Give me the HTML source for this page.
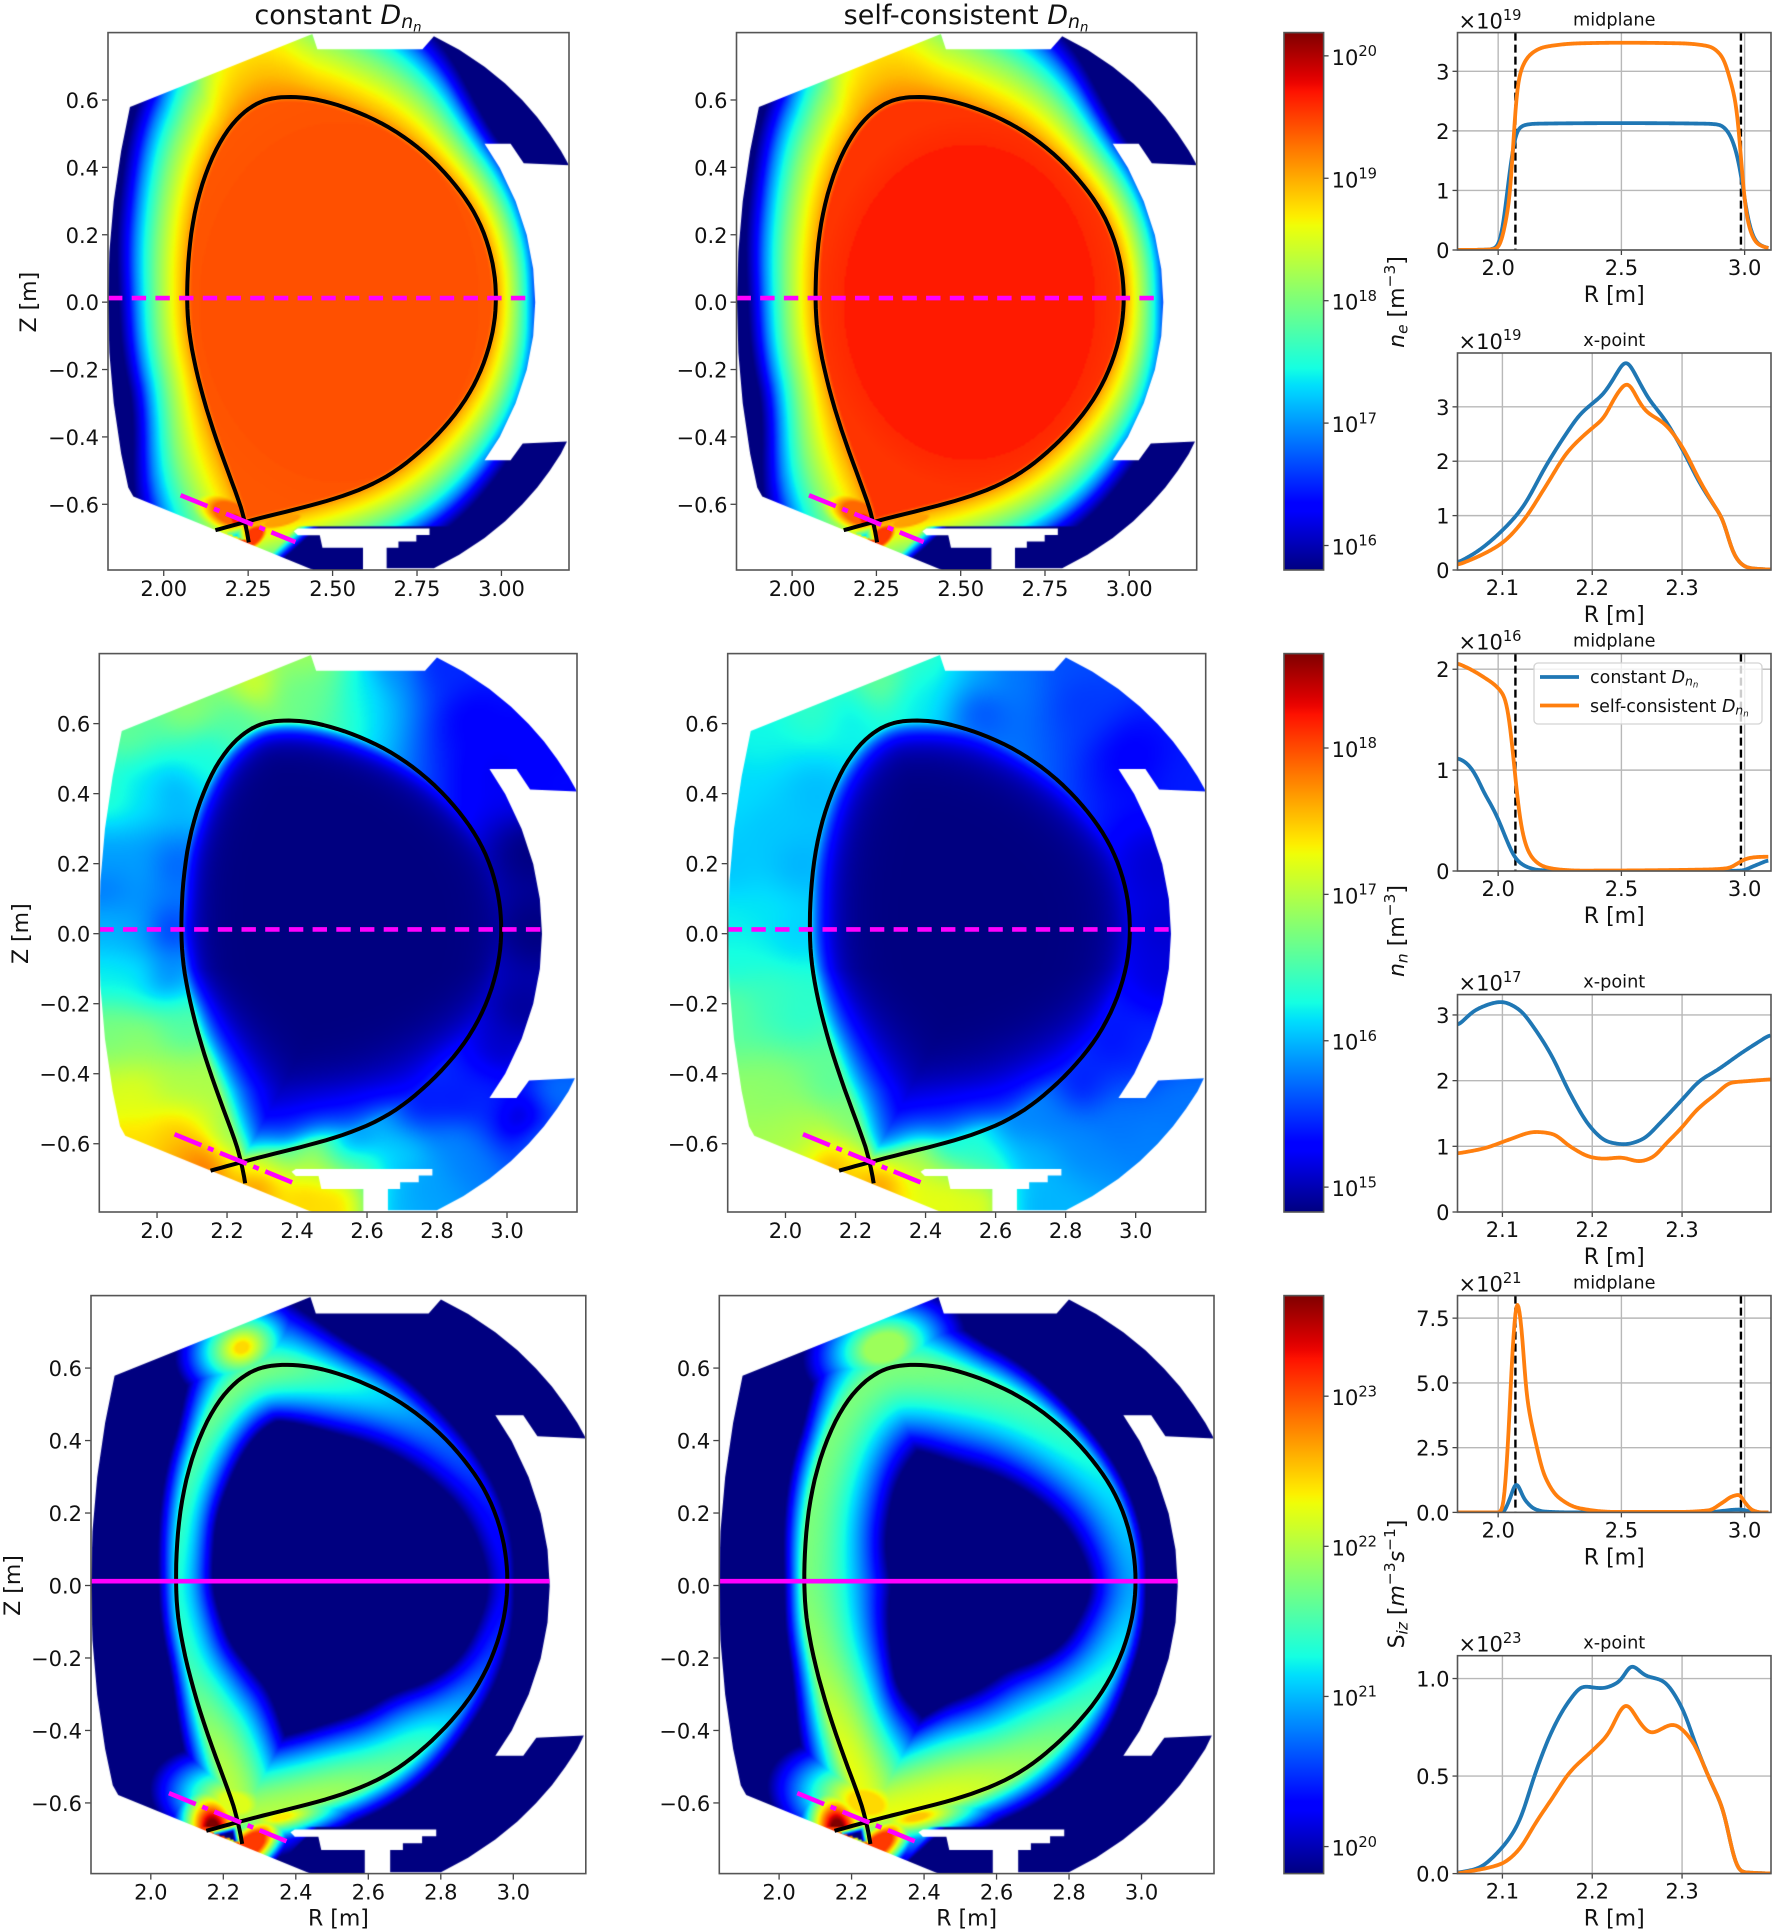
<!DOCTYPE html>
<html lang="en"><head><meta charset="utf-8"><title>Tokamak density and ionization comparison</title>
<style>
html,body{margin:0;padding:0;background:#fff}
#figure{position:relative;width:1772px;height:1931px;overflow:hidden;background:#fff}
canvas{position:absolute;display:block}
svg{position:absolute;left:0;top:0}
text{font-family:"DejaVu Sans","Liberation Sans",sans-serif;fill:#111;white-space:pre}
</style></head>
<body>
<div id="figure"></div>
<script>
/* ---------- geometry data (R, Z in metres) ---------- */
const wallR=[1.9,2.44,2.455,2.766,2.80,2.875,2.95,3.011,3.062,3.106,3.143,3.176,3.2,3.066,3.027,2.95,2.995,3.042,3.075,3.094,3.10,3.094,3.075,3.042,2.995,2.95,3.027,3.063,3.194,3.176,3.143,3.106,3.062,3.011,2.95,2.875,2.80,2.66,2.66,2.695,2.695,2.748,2.748,2.787,2.787,2.397,2.385,2.397,2.462,2.47,2.59,2.59,2.443,1.91,1.895,1.874,1.852,1.839,1.835,1.839,1.852,1.874];
const wallZ=[.58,.797,.752,.752,.79,.75,.7,.65,.6,.55,.5,.45,.407,.413,.471,.471,.4,.3,.2,.1,0,-.1,-.2,-.3,-.4,-.469,-.469,-.419,-.413,-.45,-.5,-.55,-.6,-.65,-.7,-.75,-.79,-.79,-.729,-.729,-.71,-.71,-.691,-.691,-.672,-.672,-.68,-.692,-.692,-.729,-.729,-.795,-.795,-.577,-.55,-.45,-.3,-.15,0,.15,.3,.45];
const sepR=[2.153,2.24,2.36,2.482,2.603,2.70,2.797,2.881,2.942,2.978,2.985,2.978,2.942,2.881,2.797,2.688,2.579,2.47,2.391,2.318,2.264,2.203,2.143,2.094,2.073,2.068,2.076,2.107,2.155,2.215,2.24,2.252];
const sepZ=[-.677,-.653,-.622,-.592,-.55,-.495,-.41,-.314,-.205,-.084,.013,.11,.231,.328,.425,.51,.564,.6,.61,.607,.585,.534,.437,.292,.146,0,-.108,-.253,-.41,-.568,-.653,-.713];
const midplaneZ=0.012;
const xpointLineR=[2.05,2.39];
const xpointLineZ=[-.573,-.712];

/* ---------- colour field read-offs: fraction of the jet scale ---------- */
const neProfileD=[0,.012,.035,.065,.09,.108,.125,.145];
const neProfileT=[.77,.71,.63,.5,.37,.25,.11,0];
const neAngle=[-180,-150,-130,-115,-100,-80,-60,-30,0,30,52,71,90,100,104,107,112,116,125,150,180];
const neScale=[1.4,1.45,2.2,1.9,1.6,1.6,1.6,1.35,1,1.17,1.35,2.2,2.8,3.6,6,8,7,3,2.05,1.6,1.4];

const nnConstR=[2.283,2.44,2.09,1.91,1.864,1.845,1.85,1.845,1.854,1.873,1.892,1.91,2.045,2.14,2.09,2.283,2.426,2.52,2.71,2.78,2.283,2.426,2.569,2.711,2.854,3.045,3.14,2.95,2.854,3.045,3.083,3.07,2.99,3.09,3.14,2.9,2.807,2.664,2.588,2.473,2.378,2.235,2.14,2.045,2.045,2.026,2.016,2.073,2.14,2.045,2.207,2.378,2.569,2.76,2.99,1.95,1.95,1.95,1.95,1.95,1.95,2.75,2.9,3.08];
const nnConstZ=[.71,.79,.645,.578,.405,.196,.133,.007,-.118,-.275,-.485,-.58,-.569,-.663,-.64,-.715,-.747,-.757,-.767,-.745,-.642,-.642,-.663,-.642,-.59,-.537,-.453,-.485,-.495,-.223,.007,.238,.468,.51,.426,.615,.77,.76,.72,.73,.688,.615,.51,.405,.196,.007,-.118,-.275,-.432,-.432,-.579,-.59,-.59,-.485,-.328,.196,.405,.007,-.118,-.3,-.45,-.72,-.66,-.58];
const nnConstT=[.62,.55,.52,.47,.4,.28,.24,.3,.36,.5,.62,.68,.7,.82,.75,.78,.7,.7,.3,.28,.55,.56,.45,.33,.26,.02,.24,.16,.14,.02,0,0,.1,.12,.13,.12,.16,.26,.36,.47,.48,.45,.38,.3,.22,.17,.25,.45,.56,.56,.52,.35,.25,.14,.06,.28,.35,.29,.36,.52,.62,.28,.25,.24];
const nnSelfR=[2.274,2.43,2.084,1.912,1.865,1.841,1.841,1.85,1.855,1.884,1.912,2.036,2.122,2.084,2.18,2.274,2.37,2.465,2.56,2.703,2.75,2.37,2.56,2.7,2.75,2.94,3.13,3.017,2.94,3.074,3.093,3.074,2.99,3.15,2.846,2.798,2.655,2.56,2.465,2.56,2.37,2.18,2.084,2.036,2.027,2.036,2.131,2.18,2.274,2.465,2.655,2.846,1.95,1.95,1.95,1.95,2.85,3.05];
const nnSelfZ=[.72,.78,.646,.578,.405,.196,.007,-.066,-.223,-.485,-.58,-.59,-.663,-.63,-.663,-.715,-.726,-.757,-.762,-.767,-.767,-.642,-.642,-.642,-.537,-.537,-.492,-.328,-.307,-.118,.007,.196,.51,.426,.667,.77,.75,.73,.76,.645,.667,.615,.405,.196,.007,-.223,-.432,-.55,-.59,-.59,-.537,-.432,.3,.05,-.2,-.45,-.62,-.6];
const nnSelfT=[.48,.42,.41,.37,.34,.32,.36,.38,.46,.53,.55,.55,.78,.62,.68,.78,.64,.64,.64,.3,.3,.55,.4,.3,.25,.24,.24,.16,.14,.08,.07,.07,.12,.15,.18,.2,.24,.28,.33,.2,.36,.36,.31,.3,.33,.4,.46,.5,.42,.35,.25,.15,.32,.35,.42,.52,.26,.25];

const sizAngle=[-180,-150,-120,-100,-90,-60,-45,-30,0,30,60,90,97,105,120,130,150,180];
const sizConstSep=[.38,.42,.58,.56,.55,.42,.3,.2,.1,.15,.25,.42,.46,.5,.5,.46,.42,.38];
const sizConstIn=[.1,.13,.2,.2,.2,.17,.12,.08,.05,.08,.12,.16,.16,.16,.13,.12,.1,.1];
const sizConstOut=[.05,.05,.1,.09,.09,.07,.05,.04,.02,.03,.05,.1,.16,.24,.14,.07,.06,.05];
const sizSelfSep=[.5,.54,.64,.63,.62,.5,.44,.38,.28,.34,.42,.48,.5,.5,.5,.5,.5,.5];
const sizSelfIn=[.24,.22,.2,.26,.26,.24,.2,.16,.12,.16,.2,.24,.24,.24,.22,.22,.22,.24];
const sizSelfOut=[.055,.07,.14,.11,.1,.1,.08,.05,.03,.04,.06,.11,.18,.3,.15,.08,.07,.055];

/* ---------- line chart data ---------- */
const neMidConstR=[1.835,1.95,1.98,2.0,2.02,2.04,2.06,2.07,2.08,2.1,2.15,2.5,2.85,2.9,2.93,2.95,2.98,3.0,3.02,3.05,3.1];
const neMidConst=[0,.005,.02,.07,.4,1.1,1.7,1.95,2.02,2.09,2.12,2.13,2.12,2.1,2,1.85,1.4,.85,.4,.12,.02];
const neMidSelfR=[1.835,1.95,1.98,2.0,2.02,2.04,2.052,2.069,2.09,2.135,2.19,2.33,2.5,2.74,2.855,2.91,2.945,2.97,2.98,3.0,3.02,3.047,3.1];
const neMidSelf=[0,.005,.015,.03,.25,.7,.97,2.48,3,3.3,3.41,3.47,3.48,3.47,3.42,3.24,2.8,2.35,1.85,.77,.35,.12,.02];
const neXpConstR=[2.05,2.072,2.1,2.122,2.149,2.172,2.187,2.2,2.213,2.225,2.238,2.247,2.262,2.281,2.3,2.32,2.339,2.346,2.354,2.362,2.373,2.399];
const neXpConst=[.13,.34,.73,1.14,1.93,2.53,2.87,3.06,3.25,3.55,3.85,3.62,3.17,2.76,2.23,1.59,1.1,.92,.43,.17,.04,.005];
const neXpSelfR=[2.05,2.072,2.1,2.122,2.149,2.172,2.187,2.2,2.213,2.225,2.24,2.247,2.258,2.281,2.3,2.32,2.339,2.346,2.354,2.362,2.373,2.399];
const neXpSelf=[.09,.24,.5,.88,1.56,2.16,2.42,2.61,2.8,3.17,3.45,3.25,2.95,2.68,2.27,1.63,1.1,.92,.43,.17,.04,.005];
const nnMidConstR=[1.834,1.86,1.887,1.915,1.942,1.97,1.997,2.039,2.069,2.108,2.163,2.27,2.9,2.99,3.033,3.098];
const nnMidConst=[1.12,1.09,1.03,.92,.78,.66,.53,.28,.13,.05,.01,0,0,.005,.045,.11];
const nnMidSelfR=[1.834,1.887,1.942,1.997,2.032,2.052,2.069,2.087,2.115,2.149,2.19,2.26,2.33,2.85,2.936,2.971,3.005,3.047,3.098];
const nnMidSelf=[2.06,2,1.92,1.82,1.69,1.36,.94,.53,.23,.1,.04,.012,.004,.015,.03,.075,.12,.138,.142];
const nnXpConstR=[2.05,2.072,2.099,2.118,2.137,2.156,2.175,2.2,2.217,2.236,2.255,2.278,2.3,2.32,2.339,2.366,2.399];
const nnXpConst=[2.83,3.09,3.2,3.09,2.77,2.35,1.81,1.26,1.07,1.03,1.1,1.39,1.71,2,2.16,2.42,2.71];
const nnXpSelfR=[2.05,2.08,2.107,2.137,2.156,2.175,2.2,2.213,2.232,2.252,2.267,2.282,2.3,2.316,2.339,2.354,2.37,2.399];
const nnXpSelf=[.89,.97,1.1,1.22,1.19,1,.83,.81,.83,.77,.83,1.04,1.29,1.55,1.81,1.97,1.99,2.02];
const sizMidConstR=[1.835,2.018,2.046,2.073,2.108,2.149,2.19,2.3,2.85,2.978,3.005,3.033,3.1];
const sizMidConst=[0,0,.49,1.1,.49,.13,.03,0,.01,.11,.08,0,0];
const sizMidSelfR=[1.835,2.004,2.018,2.039,2.059,2.077,2.094,2.115,2.149,2.19,2.246,2.33,2.467,2.743,2.854,2.909,2.95,2.978,2.999,3.033,3.07,3.1];
const sizMidSelf=[0,0,.16,2.5,6.4,8.2,7.2,4.6,2.85,1.38,.57,.16,.02,.02,.08,.37,.62,.68,.41,.08,0,0];
const sizXpConstR=[2.05,2.072,2.099,2.118,2.137,2.156,2.175,2.19,2.21,2.232,2.243,2.259,2.278,2.3,2.316,2.331,2.347,2.356,2.364,2.399];
const sizXpConst=[.004,.026,.13,.26,.52,.74,.89,.96,.95,.99,1.07,1.015,.99,.85,.65,.48,.31,.11,.01,0];
const sizXpSelfR=[2.05,2.099,2.118,2.137,2.156,2.175,2.2,2.217,2.238,2.252,2.265,2.29,2.309,2.331,2.347,2.356,2.364,2.399];
const sizXpSelf=[0,.05,.12,.26,.39,.52,.63,.71,.87,.78,.72,.765,.695,.48,.31,.11,.01,0];

const RMIN=1.835,RMAX=3.2,ZMIN=-.795,ZMAX=.8,STEP=.005;
const NX=Math.round((RMAX-RMIN)/STEP)+1,NZ=Math.round((ZMAX-ZMIN)/STEP)+1;
const figure=document.getElementById('figure');
const NS='http://www.w3.org/2000/svg';
const svg=document.createElementNS(NS,'svg');
svg.setAttribute('width',1772);svg.setAttribute('height',1931);svg.setAttribute('viewBox','0 0 1772 1931');


const defs=document.createElementNS(NS,'defs');svg.appendChild(defs);

function mk(tag,attrs,parent,name){
  const el=document.createElementNS(NS,tag);
  for(const k in attrs)el.setAttribute(k,attrs[k]);
  
  
  (parent||svg).appendChild(el);
  return el;
}
function txt(x,y,s,size,anchor,name,parent){
  const el=mk('text',{x:x,y:y,'font-size':size,'text-anchor':anchor||'middle'},parent,name);
  el.textContent=s;
  return el;
}
function rich(x,y,parts,size,anchor,rot,name,parent){
  const el=mk('text',{x:x,y:y,'font-size':size,'text-anchor':anchor||'middle'},parent,name);
  if(rot)el.setAttribute('transform','rotate(-90 '+x+' '+y+')');
  let shift=0;
  parts.forEach(function(p){
    const s=document.createElementNS(NS,'tspan');
    const target=(p.o||0)*size;
    s.setAttribute('font-size',size*(p.f||1));
    s.setAttribute('dy',target-shift);shift=target;
    if(p.i)s.setAttribute('font-style','italic');
    s.textContent=p.t;
    el.appendChild(s);
  });
  return el;
}
function interp(xs,ys,x){
  if(x<=xs[0])return ys[0];
  const n=xs.length-1;
  if(x>=xs[n])return ys[n];
  for(let i=1;i<=n;i++)if(x<=xs[i]){return ys[i-1]+(ys[i]-ys[i-1])*(x-xs[i-1])/(xs[i]-xs[i-1]);}
  return ys[n];
}
function angInterp(xs,ys,a){
  let s=0;
  for(let k=-2;k<=2;k++){
    let b=a+k*3;
    if(b>180)b-=360;
    if(b<-180)b+=360;
    s+=interp(xs,ys,b);
  }
  return s/5;
}
function clamp(v,a,b){return v<a?a:v>b?b:v;}
function jet(t){
  t=clamp(t,0,1);
  return [interp([0,.35,.66,.89,1],[0,0,1,1,.5],t),interp([0,.125,.375,.64,.91,1],[0,0,1,1,0,0],t),interp([0,.11,.34,.65,1],[.5,1,1,0,0],t)];
}
function spline(rs,zs,sub){
  const out=[];const n=rs.length;
  for(let i=0;i<n-1;i++){
    const a=Math.max(0,i-1),b=i,c=i+1,d=Math.min(n-1,i+2);
    for(let k=0;k<sub;k++){
      const u=k/sub,u2=u*u,u3=u2*u;
      const f=function(p){return .5*(2*p[b]+(p[c]-p[a])*u+(2*p[a]-5*p[b]+4*p[c]-p[d])*u2+(3*p[b]-p[a]-3*p[c]+p[d])*u3);};
      out.push([f(rs),f(zs)]);
    }
  }
  out.push([rs[n-1],zs[n-1]]);
  return out;
}
const SUB=5;
const sepDense=(function(){
  let p=spline(sepR,sepZ,SUB);
  for(let pass=0;pass<14;pass++){
    const q=p.map(function(c){return c.slice();});
    for(let i=1;i<p.length-1;i++){
      const w=clamp((Math.hypot(p[i][0]-sepR[1],p[i][1]-sepZ[1])-.05)/.08,0,1);
      q[i][0]=p[i][0]+w*((p[i-1][0]+2*p[i][0]+p[i+1][0])/4-p[i][0]);
      q[i][1]=p[i][1]+w*((p[i-1][1]+2*p[i][1]+p[i+1][1])/4-p[i][1]);
    }
    p=q;
  }
  return p;
})();
const coreDense=sepDense.slice(SUB,SUB*(sepR.length-2)+1);

/* signed distance grid shared by every panel */
const sd=new Float32Array(NX*NZ),th=new Float32Array(NX*NZ);
(function(){
  const m=coreDense.length;
  for(let j=0;j<NZ;j++){
    const Z=ZMAX-j*STEP;
    for(let i=0;i<NX;i++){
      const R=RMIN+i*STEP;
      let best=1e9,inside=false;
      for(let s=0,q=m-1;s<m;q=s++){
        const ax=coreDense[q][0],az=coreDense[q][1],bx=coreDense[s][0],bz=coreDense[s][1];
        const dx=bx-ax,dz=bz-az;
        const l=dx*dx+dz*dz;
        const u=l>0?clamp(((R-ax)*dx+(Z-az)*dz)/l,0,1):0;
        const ex=R-ax-u*dx,ez=Z-az-u*dz,dd=ex*ex+ez*ez;
        if(dd<best)best=dd;
        if((az>Z)!==(bz>Z)&&R<ax+(Z-az)/dz*dx)inside=!inside;
      }
      sd[j*NX+i]=(inside?-1:1)*Math.sqrt(best);
      th[j*NX+i]=Math.atan2(Z,R-2.5)*180/Math.PI;
    }
  }
})();

function ellipse(R,Z,b){
  const c=Math.cos(b[5]*Math.PI/180),s=Math.sin(b[5]*Math.PI/180);
  const u=(R-b[0])*c+(Z-b[1])*s,v=-(R-b[0])*s+(Z-b[1])*c;
  const e=Math.sqrt(u*u/(b[2]*b[2])+v*v/(b[3]*b[3]));
  return b[4]*clamp((1-e)*b[6],0,1);
}
function segDist(R,Z,a,b,c,d){
  const dx=c-a,dz=d-b,u=clamp(((R-a)*dx+(Z-b)*dz)/(dx*dx+dz*dz),0,1);
  return Math.hypot(R-a-u*dx,Z-b-u*dz);
}
function inPrivate(R,Z){
  const p=[[2.24,-.655],[2.153,-.677],[2.252,-.713]];let inside=false;
  for(let i=0,j=2;i<3;j=i++){
    if((p[i][1]>Z)!==(p[j][1]>Z)&&R<p[i][0]+(Z-p[i][1])/(p[j][1]-p[i][1])*(p[j][0]-p[i][0]))inside=!inside;
  }
  return inside;
}
function lowerDetail(t,R,Z,legT,slope){
  if(inPrivate(R,Z)){
    const q=Math.min(segDist(R,Z,2.24,-.655,2.153,-.677),segDist(R,Z,2.24,-.655,2.252,-.713));
    t=Math.min(t,legT-q*slope);
  }
  if(Z<-.668){
    const c=(R-2.37)*.67-(Z+.71)*.74;
    t=Math.min(t,interp([-.03,0,.03],[.85,.4,0],c));
  }
  return t;
}
function neField(cfg){
  return function(R,Z,d,a){
    let t;
    if(d<0){
      const depth=-d;
      const ex=(R-cfg.c)/cfg.a,ez=Z/cfg.b,e=ex*ex+ez*ez;
      const inner=e<1?cfg.core:cfg.ring+(cfg.core-cfg.ring)*.45*clamp((1.4-e)/.4,0,1);
      t=depth<.012?.77+(inner-.77)*depth/.012:inner;
    }else{
      t=interp(neProfileD,neProfileT,d/angInterp(neAngle,neScale,a));
    }
    if(d>=0)cfg.blobs.forEach(function(b){t=Math.max(t,ellipse(R,Z,b));});
    return lowerDetail(t,R,Z,.8,14);
  };
}
function blurGrid(g,r,passes){
  const tmp=new Float32Array(g.length),w=2*r+1;
  for(let p=0;p<passes;p++){
    for(let j=0;j<NZ;j++){
      let s=0;
      for(let k=-r;k<=r;k++)s+=g[j*NX+clamp(k,0,NX-1)];
      for(let i=0;i<NX;i++){
        tmp[j*NX+i]=s/w;
        s+=g[j*NX+clamp(i+r+1,0,NX-1)]-g[j*NX+clamp(i-r,0,NX-1)];
      }
    }
    for(let i=0;i<NX;i++){
      let s=0;
      for(let k=-r;k<=r;k++)s+=tmp[clamp(k,0,NZ-1)*NX+i];
      for(let j=0;j<NZ;j++){
        g[j*NX+i]=s/w;
        s+=tmp[clamp(j+r+1,0,NZ-1)*NX+i]-tmp[clamp(j-r,0,NZ-1)*NX+i];
      }
    }
  }
}
function idwField(rs,zs,ts,extra){
  const g=new Float32Array(NX*NZ);
  for(let j=0;j<NZ;j++){
    const Z=ZMAX-j*STEP;
    for(let i=0;i<NX;i++){
      const R=RMIN+i*STEP;
      let sw=0,sv=0;
      for(let q=0;q<rs.length;q++){
        const dx=R-rs[q],dz=Z-zs[q];
        const w=1/Math.pow(dx*dx+dz*dz+.0012,1.6);
        sw+=w;sv+=w*ts[q];
      }
      g[j*NX+i]=sv/sw;
    }
  }
  blurGrid(g,5,3);
  return function(R,Z,d,a,k){
    let t=g[k];
    if(d<0){
      const lam=.03+extra+.05*clamp((-Z-.1)/.35,0,1);
      t*=Math.exp(d/lam);
    }
    return t;
  };
}
function sizField(sep,inn,out,blobs){
  return function(R,Z,d,a){
    const s=angInterp(sizAngle,sep,a);
    let t;
    if(d<0)t=s*Math.max(0,1-Math.pow(-d/angInterp(sizAngle,inn,a),1.8));
    else t=s*Math.max(0,1-d/angInterp(sizAngle,out,a));
    blobs.forEach(function(b){t=Math.max(t,ellipse(R,Z,b));});
    return lowerDetail(t,R,Z,.9,42);
  };
}
function paintPanel(box,fn,name){
  const off=document.createElement('canvas');off.width=NX;off.height=NZ;
  const oc=off.getContext('2d');const im=oc.createImageData(NX,NZ);
  for(let j=0;j<NZ;j++){
    const Z=ZMAX-j*STEP;
    for(let i=0;i<NX;i++){
      const k=j*NX+i;
      const c=jet(fn(RMIN+i*STEP,Z,sd[k],th[k],k));
      im.data[k*4]=c[0]*255;im.data[k*4+1]=c[1]*255;im.data[k*4+2]=c[2]*255;im.data[k*4+3]=255;
    }
  }
  oc.putImageData(im,0,0);
  const cv=document.createElement('canvas');
  const w=Math.round(box.x1-box.x0),h=Math.round(box.y1-box.y0);
  cv.width=w;cv.height=h;
  cv.style.left=box.x0+'px';cv.style.top=box.y0+'px';
  cv.style.width=(box.x1-box.x0)+'px';cv.style.height=(box.y1-box.y0)+'px';
  
  
  const ctx=cv.getContext('2d');
  ctx.beginPath();
  wallR.forEach(function(r,i){
    const X=(r-RMIN)/(RMAX-RMIN)*w,Y=(ZMAX-wallZ[i])/(ZMAX-ZMIN)*h;
    if(i)ctx.lineTo(X,Y);else ctx.moveTo(X,Y);
  });
  ctx.closePath();ctx.clip();
  ctx.imageSmoothingEnabled=true;ctx.imageSmoothingQuality='high';
  ctx.drawImage(off,0,0,w,h);
  figure.appendChild(cv);
}
const FRAME='#555',TICK='#444',GRID='#b8b8b8';
function sx(box,lim,v){return box.x0+(v-lim[0])/(lim[1]-lim[0])*(box.x1-box.x0);}
function sy(box,lim,v){return box.y1-(v-lim[0])/(lim[1]-lim[0])*(box.y1-box.y0);}
function frame(box,name){
  mk('rect',{x:box.x0,y:box.y0,width:box.x1-box.x0,height:box.y1-box.y0,fill:'none',stroke:FRAME,'stroke-width':1.6},null,name);
}
function polarPlot(box,spec){
  const xl=[RMIN,RMAX],yl=[ZMIN,ZMAX];
  const g=mk('g',{},null,spec.name);
  const pts=sepDense.map(function(p){return sx(box,xl,p[0]).toFixed(1)+','+sy(box,yl,p[1]).toFixed(1);}).join(' ');
  mk('polyline',{points:pts,fill:'none',stroke:'#000','stroke-width':4,'stroke-linejoin':'round'},g,'separatrix-line');
  const my=sy(box,yl,midplaneZ);
  const mid=mk('line',{x1:box.x0,y1:my,x2:sx(box,xl,spec.midEnd),y2:my,stroke:'#ff00ff','stroke-width':4.6},g,'midplane-line');
  if(spec.dashed)mid.setAttribute('stroke-dasharray','14.4 9.3');
  mk('line',{x1:sx(box,xl,xpointLineR[0]),y1:sy(box,yl,xpointLineZ[0]),x2:sx(box,xl,xpointLineR[1]),y2:sy(box,yl,xpointLineZ[1]),stroke:'#ff00ff','stroke-width':4.6,'stroke-dasharray':'29 7 6 7'},g,'x-point-line');
  frame(box,'panel-frame');
  spec.xticks.forEach(function(s){
    const X=sx(box,xl,parseFloat(s));
    mk('line',{x1:X,y1:box.y1,x2:X,y2:box.y1+6,stroke:TICK,'stroke-width':1.3},g,'x-tick');
    txt(X,box.y1+26,s,21,'middle','x-tick-label',g);
  });
  ['-0.6','-0.4','-0.2','0.0','0.2','0.4','0.6'].forEach(function(s){
    const Y=sy(box,yl,parseFloat(s));
    mk('line',{x1:box.x0-6,y1:Y,x2:box.x0,y2:Y,stroke:TICK,'stroke-width':1.3},g,'z-tick');
    txt(box.x0-9,Y+8,s.replace('-','\u2212'),21,'end','z-tick-label',g);
  });
  if(spec.zlabelX){
    const el=txt(spec.zlabelX,sy(box,yl,0),'Z [m]',22,'middle','z-axis-title',g);
    el.setAttribute('transform','rotate(-90 '+spec.zlabelX+' '+sy(box,yl,0)+')');
  }
  if(spec.rlabel)txt((box.x0+box.x1)/2,box.y1+52,'R [m]',22,'middle','r-axis-title',g);
}
const DSUB=[{t:'D',i:1},{t:'n',i:1,f:.7,o:.15},{t:'n',i:1,f:.49,o:.27}];
function colorbar(box,lo,hi,decades,parts,cy,name){
  const g=mk('g',{},null,name);
  const id='grad-'+name;
  const lg=mk('linearGradient',{id:id,x1:0,y1:1,x2:0,y2:0},defs,'colorbar-gradient');
  for(let i=0;i<=64;i++){
    const c=jet(i/64);
    mk('stop',{offset:i/64,'stop-color':'rgb('+Math.round(c[0]*255)+','+Math.round(c[1]*255)+','+Math.round(c[2]*255)+')'},lg,'gradient-stop');
  }
  mk('rect',{x:box.x0,y:box.y0,width:box.x1-box.x0,height:box.y1-box.y0,fill:'url(#'+id+')'},g,'colorbar-fill');
  mk('rect',{x:box.x0,y:box.y0,width:box.x1-box.x0,height:box.y1-box.y0,fill:'none',stroke:FRAME,'stroke-width':1.6},g,'colorbar-frame');
  decades.forEach(function(dec){
    const Y=box.y1-(dec-lo)/(hi-lo)*(box.y1-box.y0);
    mk('line',{x1:box.x1,y1:Y,x2:box.x1+5,y2:Y,stroke:TICK,'stroke-width':1.3},g,'colorbar-tick');
    rich(box.x1+8,Y+9,[{t:'10'},{t:String(dec),f:.7,o:-.42}],21,'start',false,'colorbar-tick-label',g);
  });
  rich(1404,cy,parts,22,'middle',true,'colorbar-title',g);
}
let clipCount=0;
function linePlot(box,spec){
  const g=mk('g',{},null,spec.name);
  const xl=spec.xlim,yl=spec.ylim;
  spec.xt.forEach(function(s){
    const X=sx(box,xl,parseFloat(s));
    mk('line',{x1:X,y1:box.y0,x2:X,y2:box.y1,stroke:GRID,'stroke-width':1.4},g,'x-gridline');
  });
  spec.yt.forEach(function(s){
    const Y=sy(box,yl,parseFloat(s));
    mk('line',{x1:box.x0,y1:Y,x2:box.x1,y2:Y,stroke:GRID,'stroke-width':1.4},g,'y-gridline');
  });
  clipCount++;
  const cid='clip-'+clipCount;
  const cp=mk('clipPath',{id:cid},defs,'plot-clip');
  mk('rect',{x:box.x0,y:box.y0,width:box.x1-box.x0,height:box.y1-box.y0},cp,'plot-clip-rect');
  const pg=mk('g',{'clip-path':'url(#'+cid+')'},g,'plot-area');
  if(spec.vlines)spec.vlines.forEach(function(v){
    const X=sx(box,xl,v);
    mk('line',{x1:X,y1:box.y0,x2:X,y2:box.y1,stroke:'#000','stroke-width':2.4,'stroke-dasharray':'8 4'},pg,'separatrix-marker');
  });
  spec.series.forEach(function(s){
    const xs=s.R.map(function(v){return sx(box,xl,v);}),ys=s.v.map(function(v){return sy(box,yl,v);});
    mk('path',{d:smoothPath(xs,ys,spec.blur),fill:'none',stroke:s.c,'stroke-width':3.8,'stroke-linejoin':'round'},pg,s.n);
  });
  frame(box,'plot-frame');
  spec.xt.forEach(function(s){
    const X=sx(box,xl,parseFloat(s));
    mk('line',{x1:X,y1:box.y1,x2:X,y2:box.y1+5,stroke:TICK,'stroke-width':1.3},g,'x-tick');
    txt(X,box.y1+25,s,21,'middle','x-tick-label',g);
  });
  spec.yt.forEach(function(s){
    const Y=sy(box,yl,parseFloat(s));
    mk('line',{x1:box.x0-5,y1:Y,x2:box.x0,y2:Y,stroke:TICK,'stroke-width':1.3},g,'y-tick');
    txt(box.x0-8,Y+8,s,21,'end','y-tick-label',g);
  });
  txt((box.x0+box.x1)/2,box.y1+52,'R [m]',22,'middle','r-axis-title',g);
  txt((box.x0+box.x1)/2,box.y0-7,spec.title,17.7,'middle','plot-title',g);
  rich(box.x0+1,box.y0-4,[{t:'\u00d710'},{t:spec.exp,f:.7,o:-.42}],21,'start',false,'offset-exponent',g);
}
function smoothPath(xs,ys,r){
  const n=xs.length,m=new Array(n),dl=[];
  for(let i=0;i<n-1;i++)dl.push((ys[i+1]-ys[i])/(xs[i+1]-xs[i]));
  m[0]=dl[0];m[n-1]=dl[n-2];
  for(let i=1;i<n-1;i++){
    if(dl[i-1]*dl[i]<=0){m[i]=0;}
    else{
      const h0=xs[i]-xs[i-1],h1=xs[i+1]-xs[i];
      const w1=2*h1+h0,w2=h1+2*h0;
      m[i]=(w1+w2)/(w1/dl[i-1]+w2/dl[i]);
    }
  }
  const px=[],py=[];
  let seg=0;
  for(let x=xs[0];x<=xs[n-1]+.001;x+=1){
    while(seg<n-2&&x>xs[seg+1])seg++;
    const h=xs[seg+1]-xs[seg],u=clamp((x-xs[seg])/h,0,1),u2=u*u,u3=u2*u;
    px.push(x);
    py.push((2*u3-3*u2+1)*ys[seg]+(u3-2*u2+u)*h*m[seg]+(-2*u3+3*u2)*ys[seg+1]+(u3-u2)*h*m[seg+1]);
  }
  let cur=py;
  for(let p=0;p<3;p++){
    const nx=cur.slice();
    for(let i=0;i<cur.length;i++){
      let s=0;
      for(let k=-r;k<=r;k++)s+=cur[clamp(i+k,0,cur.length-1)];
      nx[i]=s/(2*r+1);
    }
    cur=nx;
  }
  let d='';
  for(let i=0;i<px.length;i++)d+=(i?'L':'M')+px[i].toFixed(1)+' '+cur[i].toFixed(2);
  return d;
}

/* ---------- panel layout ---------- */
const rows=[{y0:32.6,y1:570},{y0:653.6,y1:1212},{y0:1295.6,y1:1873.6}];
const boxes=[
  {x0:108,x1:569},{x0:736.5,x1:1196.7},
  {x0:99.3,x1:577},{x0:727.7,x1:1205.7},
  {x0:91,x1:585.8},{x0:719.3,x1:1214}
].map(function(b,i){return {x0:b.x0,x1:b.x1,y0:rows[Math.floor(i/2)].y0,y1:rows[Math.floor(i/2)].y1};});

const neBlobs=[[2.2,-.63,.24,.13,.8,-22,1.3],[2.35,-.65,.22,.06,.74,15,1.3],[2.215,-.65,.08,.05,.87,120,1.3],[2.26,-.70,.11,.06,.85,40,1.5]];
paintPanel(boxes[0],neField({core:.825,ring:.819,c:2.52,a:.415,b:.535,blobs:neBlobs}),'ne-constant-map');
paintPanel(boxes[1],neField({core:.883,ring:.855,c:2.525,a:.375,b:.47,blobs:neBlobs}),'ne-self-consistent-map');
paintPanel(boxes[2],idwField(nnConstR,nnConstZ,nnConstT,0),'nn-constant-map');
paintPanel(boxes[3],idwField(nnSelfR,nnSelfZ,nnSelfT,.012),'nn-self-consistent-map');
paintPanel(boxes[4],sizField(sizConstSep,sizConstIn,sizConstOut,[[2.17,-.67,.17,.12,1,100,1.15],[2.27,-.72,.16,.08,1,40,1.25],[2.23,-.6,.24,.15,.62,-15,1.2],[2.36,-.64,.28,.08,.66,12,1.1],[2.25,.66,.19,.15,.68,20,1.1]]),'siz-constant-map');
paintPanel(boxes[5],sizField(sizSelfSep,sizSelfIn,sizSelfOut,[[2.16,-.67,.17,.12,1,100,1.15],[2.27,-.72,.17,.08,1,40,1.2],[2.24,-.6,.28,.17,.68,-15,1.2],[2.38,-.64,.3,.09,.7,12,1.1],[2.29,.66,.23,.16,.54,15,1.3]]),'siz-self-consistent-map');

const t1=['2.00','2.25','2.50','2.75','3.00'],t2=['2.0','2.2','2.4','2.6','2.8','3.0'];
polarPlot(boxes[0],{name:'ne-constant-panel',xticks:t1,midEnd:3.08,dashed:true,zlabelX:36});
polarPlot(boxes[1],{name:'ne-self-consistent-panel',xticks:t1,midEnd:3.08,dashed:true});
polarPlot(boxes[2],{name:'nn-constant-panel',xticks:t2,midEnd:3.10,dashed:true,zlabelX:28});
polarPlot(boxes[3],{name:'nn-self-consistent-panel',xticks:t2,midEnd:3.10,dashed:true});
polarPlot(boxes[4],{name:'siz-constant-panel',xticks:t2,midEnd:3.10,zlabelX:20,rlabel:true});
polarPlot(boxes[5],{name:'siz-self-consistent-panel',xticks:t2,midEnd:3.10,rlabel:true});

rich(338,24,[{t:'constant '}].concat(DSUB),27,'middle',false,'column-title-constant');
rich(966,24,[{t:'self-consistent '}].concat(DSUB),27,'middle',false,'column-title-self-consistent');

/* ---------- colorbars ---------- */
const cbX0=1284,cbX1=1323.6;
colorbar({x0:cbX0,x1:cbX1,y0:32.6,y1:570},15.80,20.19,[16,17,18,19,20],[{t:'n',i:1},{t:'e',i:1,f:.7,o:.15},{t:' [m'},{t:'\u22123',f:.7,o:-.42},{t:']'}],302,'ne-colorbar');
colorbar({x0:cbX0,x1:cbX1,y0:653.6,y1:1212},14.83,18.645,[15,16,17,18],[{t:'n',i:1},{t:'n',i:1,f:.7,o:.15},{t:' [m'},{t:'\u22123',f:.7,o:-.42},{t:']'}],931,'nn-colorbar');
colorbar({x0:cbX0,x1:cbX1,y0:1295.6,y1:1873.6},19.82,23.67,[20,21,22,23],[{t:'S'},{t:'iz',i:1,f:.7,o:.15},{t:' ['},{t:'m',i:1},{t:'\u22123',f:.7,o:-.42},{t:'s',i:1},{t:'\u22121',f:.7,o:-.42},{t:']'}],1584,'siz-colorbar');

/* ---------- line plots ---------- */
const LX0=1457.5,LX1=1771,BLUE='#1f77b4',ORANGE='#ff7f0e';
const midX=['2.0','2.5','3.0'],xpX=['2.1','2.2','2.3'],midLim=[1.835,3.107],xpLim=[2.05,2.399],seps=[2.07,2.985];
linePlot({x0:LX0,x1:LX1,y0:32.6,y1:250},{name:'ne-midplane-plot',title:'midplane',exp:'19',blur:2,xlim:midLim,ylim:[0,3.65],xt:midX,yt:['0','1','2','3'],vlines:seps,series:[{R:neMidConstR,v:neMidConst,c:BLUE,n:'constant-line'},{R:neMidSelfR,v:neMidSelf,c:ORANGE,n:'self-consistent-line'}]});
linePlot({x0:LX0,x1:LX1,y0:353,y1:570},{name:'ne-x-point-plot',title:'x-point',exp:'19',blur:3,xlim:xpLim,ylim:[0,3.99],xt:xpX,yt:['0','1','2','3'],series:[{R:neXpConstR,v:neXpConst,c:BLUE,n:'constant-line'},{R:neXpSelfR,v:neXpSelf,c:ORANGE,n:'self-consistent-line'}]});
linePlot({x0:LX0,x1:LX1,y0:653.6,y1:871},{name:'nn-midplane-plot',title:'midplane',exp:'16',blur:2,xlim:midLim,ylim:[0,2.155],xt:midX,yt:['0','1','2'],vlines:seps,series:[{R:nnMidConstR,v:nnMidConst,c:BLUE,n:'constant-line'},{R:nnMidSelfR,v:nnMidSelf,c:ORANGE,n:'self-consistent-line'}]});
linePlot({x0:LX0,x1:LX1,y0:994.6,y1:1212},{name:'nn-x-point-plot',title:'x-point',exp:'17',blur:3,xlim:xpLim,ylim:[0,3.31],xt:xpX,yt:['0','1','2','3'],series:[{R:nnXpConstR,v:nnXpConst,c:BLUE,n:'constant-line'},{R:nnXpSelfR,v:nnXpSelf,c:ORANGE,n:'self-consistent-line'}]});
linePlot({x0:LX0,x1:LX1,y0:1295.6,y1:1512.4},{name:'siz-midplane-plot',title:'midplane',exp:'21',blur:1,xlim:midLim,ylim:[0,8.37],xt:midX,yt:['0.0','2.5','5.0','7.5'],vlines:seps,series:[{R:sizMidConstR,v:sizMidConst,c:BLUE,n:'constant-line'},{R:sizMidSelfR,v:sizMidSelf,c:ORANGE,n:'self-consistent-line'}]});
linePlot({x0:LX0,x1:LX1,y0:1655.7,y1:1873.6},{name:'siz-x-point-plot',title:'x-point',exp:'23',blur:3,xlim:xpLim,ylim:[0,1.117],xt:xpX,yt:['0.0','0.5','1.0'],series:[{R:sizXpConstR,v:sizXpConst,c:BLUE,n:'constant-line'},{R:sizXpSelfR,v:sizXpSelf,c:ORANGE,n:'self-consistent-line'}]});

/* ---------- legend ---------- */
const lg=mk('g',{},null,'legend');
mk('rect',{x:1534,y:663,width:228,height:61,rx:4,fill:'#fff','fill-opacity':.8,stroke:'#d4d4d4','stroke-width':1.3},lg,'legend-box');
mk('line',{x1:1540,y1:677,x2:1579,y2:677,stroke:BLUE,'stroke-width':3.8},lg,'legend-swatch-constant');
mk('line',{x1:1540,y1:705.5,x2:1579,y2:705.5,stroke:ORANGE,'stroke-width':3.8},lg,'legend-swatch-self-consistent');
rich(1590,683,[{t:'constant '}].concat(DSUB),17.5,'start',false,'legend-label-constant',lg);
rich(1590,712,[{t:'self-consistent '}].concat(DSUB),17.5,'start',false,'legend-label-self-consistent',lg);

figure.appendChild(svg);
</script>
</body></html>
